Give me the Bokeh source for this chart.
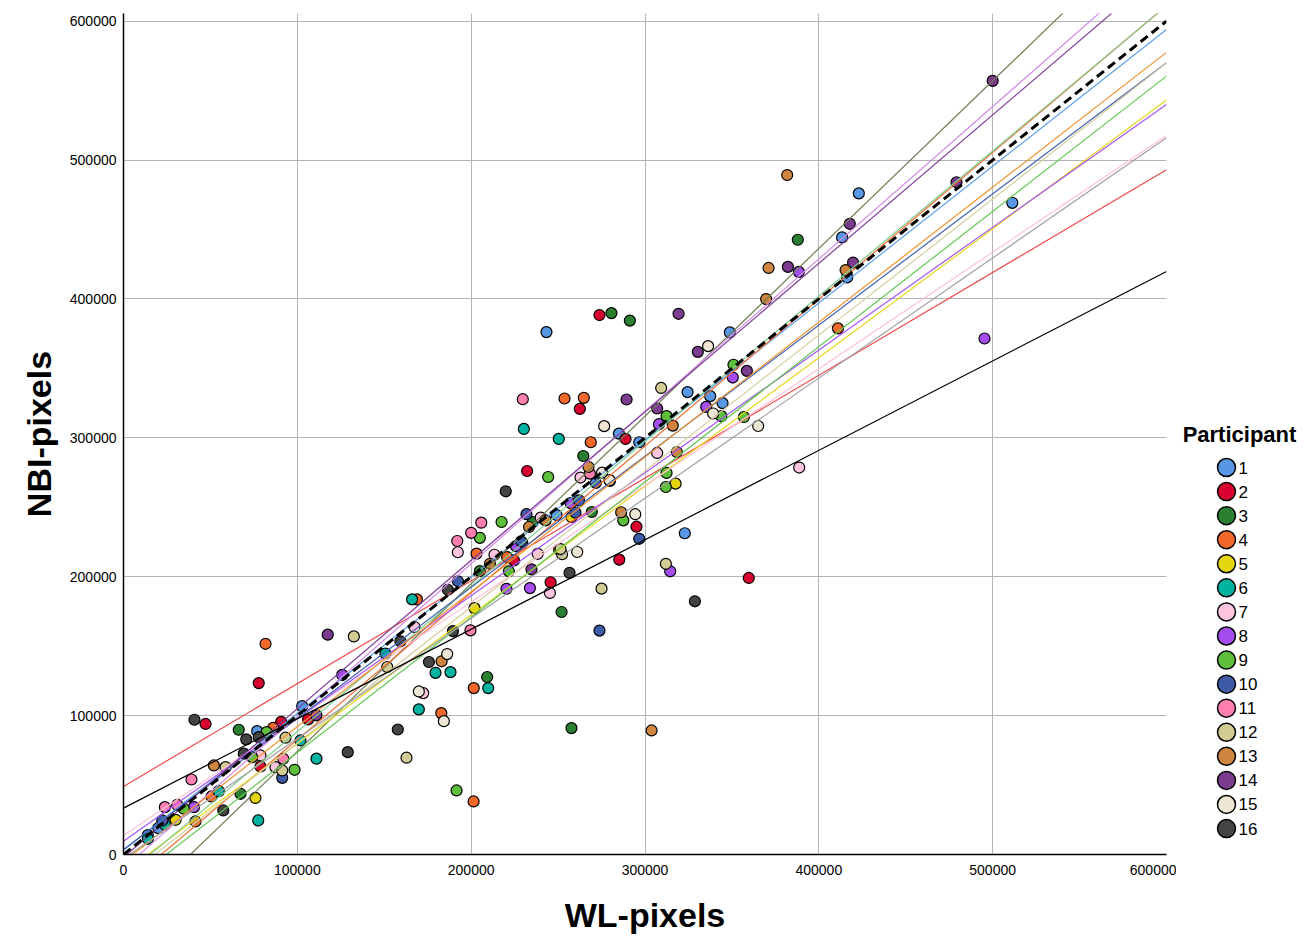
from bokeh.plotting import figure
from bokeh.models import Range1d, ColumnDataSource
from bokeh.layouts import row
from bokeh.embed import file_html
from bokeh.resources import INLINE
from bokeh.core.properties import value

FONT = "Liberation Sans"

participants = [str(i) for i in range(1, 17)]
point_colors = ["#5897E3", "#D7002E", "#2A8030", "#F2682A", "#E3D60E", "#00B2A0",
                "#FFC4DE", "#A64DF0", "#5DBF3A", "#3E5BA8", "#FF80B0", "#D2CB94",
                "#CD853F", "#7B3B8F", "#EDE6D4", "#444444"]
line_colors = ["#5A9FE8", "#F04848", "#6E7D52", "#F26A30", "#E6D81C", "#80CC8C",
               "#FFC0D8", "#A855F7", "#60C850", "#4060B0", "#D48CE8", "#D6CFA0",
               "#F0922E", "#7E3F98", "#A0A0A0", "#000000"]
intercepts = [3000, 49000, -46500, -23000, -13000, -16000, 13700, 9600,
              -24000, 3600, -10000, -17600, -5100, -2000, -3000, 33400]
slopes = [0.985, 0.740, 1.207, 1.057, 0.927, 1.045, 0.840, 0.884,
          0.974, 0.944, 1.097, 0.979, 0.971, 1.069, 0.865, 0.644]

P1 = [(423000, 476000), (413400, 444300), (416300, 415500), (511300, 469200), (348800, 375900),
      (324500, 332900), (337500, 330000), (344600, 325000), (285000, 303000), (296700, 296800),
      (322900, 231300), (279800, 268900), (249100, 244400), (229400, 224400), (243300, 376100),
      (102800, 106800), (76900, 88800), (14000, 14000), (20000, 19000)]
P2 = [(273800, 388400), (262500, 320800), (288800, 299200), (295100, 236000), (285200, 212300),
      (359700, 199100), (232200, 276100), (224600, 211800), (245700, 196000), (77800, 123400),
      (47200, 94000), (106200, 97300), (90700, 95500), (78800, 63400)]
P3 = [(387900, 442600), (280700, 389800), (291300, 384400), (264500, 286900), (269400, 246600),
      (235500, 239400), (252000, 174600), (209200, 127800), (257700, 91000), (66300, 89800),
      (67300, 43700), (205000, 204000)]
P4 = [(411000, 378800), (253700, 328300), (264800, 328800), (268800, 296800), (203100, 216600),
      (220700, 214100), (168800, 183700), (182800, 101800), (201500, 119800), (201400, 38200),
      (81700, 151700), (86100, 91200), (50600, 41800)]
P5 = [(317600, 267000), (257700, 243000), (250600, 219500), (201900, 177400), (75900, 40700),
      (30000, 25000)]
P6 = [(230300, 306400), (250400, 299200), (166000, 183700), (179500, 130800), (188100, 131300),
      (169900, 104500), (209800, 119800), (111000, 69000), (101800, 82100), (54800, 45600),
      (77500, 24500), (23800, 21600), (14000, 11300), (150700, 144600)]
P7 = [(388700, 278600), (262900, 271400), (192300, 217600), (213400, 215800), (240000, 242500),
      (307000, 289100), (245300, 188300), (167400, 163800), (172400, 116200), (78800, 71300),
      (87400, 62900), (238300, 216500)]
P8 = [(495300, 371500), (388500, 419500), (350500, 343400), (335200, 322300), (308000, 309800),
      (257200, 253000), (225800, 222000), (220300, 191300), (233800, 191800), (314500, 203900),
      (125800, 129300), (40500, 34100)]
P9 = [(350900, 352600), (343900, 315600), (356900, 315000), (312400, 315600), (312400, 274700),
      (312000, 264600), (287500, 240600), (244300, 271800), (217500, 239400), (205000, 228000),
      (221700, 203900), (82300, 88100), (98400, 61000), (191600, 46100), (34700, 32900),
      (74000, 70100)]
P10 = [(296700, 227300), (273800, 161200), (231800, 245000), (260000, 246100), (271700, 267500),
       (192400, 196700), (228700, 225500), (91300, 55200), (22300, 24500), (262000, 255000)]
P11 = [(229700, 327800), (205800, 238900), (200000, 231600), (192000, 225700), (268300, 274200),
       (199600, 161400), (91900, 68900), (39100, 54000), (23800, 34100), (30900, 35700)]
P12 = [(309300, 335900), (312000, 209300), (275000, 191400), (252300, 216200), (251400, 219900),
       (132500, 157000), (162800, 69700), (93200, 84100), (91300, 60500), (58700, 62900),
       (151700, 135000)]
P13 = [(381800, 489200), (415400, 420800), (369700, 399900), (371100, 422300), (316000, 308800),
       (318300, 289800), (286300, 246400), (267500, 279000), (233300, 235800), (242800, 240600),
       (183000, 139100), (303800, 89300), (52000, 64100), (41400, 23800), (210800, 209300)]
P14 = [(500000, 557000), (479200, 484000), (417800, 454100), (382200, 423100), (419700, 426200),
       (330400, 361900), (319300, 389300), (358600, 348200), (307000, 321100), (289400, 327600),
       (234700, 205300), (117500, 158300), (111000, 100200)]
P15 = [(336300, 366000), (339200, 317500), (365100, 308500), (276500, 308400), (294400, 245000),
       (275300, 274900), (261000, 217800), (186200, 144300), (169900, 117400), (184300, 96000),
       (279600, 269500)]
P16 = [(328700, 182300), (219900, 261500), (256600, 202800), (186600, 190600), (189500, 160800),
       (175700, 138600), (157800, 90000), (129000, 73700), (69200, 72600), (70600, 82900),
       (77800, 84500), (40800, 97000), (57400, 31700), (159300, 153500)]

groups = [P1, P2, P3, P4, P5, P6, P7, P8, P9, P10, P11, P12, P13, P14, P15, P16]

x_ticks = [0, 100000, 200000, 300000, 400000, 500000, 600000]
y_ticks = [0, 100000, 200000, 300000, 400000, 500000, 600000]
X_MIN, X_MAX = 0, 600000
Y_MAX = 605500

# frame placement (page pixels)
F_LEFT, F_TOP, F_RIGHT, F_BOTTOM = 123, 13, 1166, 854
W, H = 1176, 938
p = figure(width=W, height=H, x_range=Range1d(X_MIN, X_MAX), y_range=Range1d(0, Y_MAX),
           toolbar_location=None, output_backend="svg",
           min_border_left=F_LEFT, min_border_right=W - F_RIGHT,
           min_border_top=F_TOP, min_border_bottom=H - F_BOTTOM)
p.outline_line_color = None
p.background_fill_color = "white"
p.border_fill_color = "white"

p.xaxis.ticker = x_ticks
p.yaxis.ticker = y_ticks
for ax in (p.xaxis[0], p.yaxis[0]):
    ax.major_tick_line_color = None
    ax.minor_tick_line_color = None
    ax.major_tick_out = 0
    ax.major_tick_in = 0
    ax.axis_line_color = "black"
    ax.axis_line_width = 1.5
    ax.major_label_text_font = FONT
    ax.major_label_text_font_size = "14px"
    ax.major_label_text_color = "black"
    ax.axis_label_text_font = FONT
    ax.axis_label_text_font_size = "34px"
    ax.axis_label_text_font_style = "bold"
    ax.axis_label_text_color = "black"
p.xaxis.major_label_standoff = 10
p.yaxis.major_label_standoff = 7
p.xaxis.axis_label = "WL-pixels"
p.yaxis.axis_label = "NBI-pixels"
p.xaxis.axis_label_standoff = 18
p.yaxis.axis_label_standoff = 9
p.yaxis.major_label_orientation = "horizontal"
p.xaxis.formatter.use_scientific = False
p.yaxis.formatter.use_scientific = False

p.grid.grid_line_color = "#B4B4B4"
p.grid.grid_line_width = 1

# points
for i, g in enumerate(groups):
    src = ColumnDataSource(dict(x=[a for a, b in g], y=[b for a, b in g]))
    p.scatter("x", "y", source=src, size=11, fill_color=point_colors[i],
              line_color="black", line_width=1.2)

# regression lines per participant
x0 = [X_MIN] * len(participants)
x1 = [X_MAX] * len(participants)
y0 = [a + b * X_MIN for a, b in zip(intercepts, slopes)]
y1 = [a + b * X_MAX for a, b in zip(intercepts, slopes)]
p.segment(x0=x0, y0=y0, x1=x1, y1=y1, line_color=line_colors, line_width=1.2)

# identity line
p.line(x=[X_MIN, X_MAX], y=[X_MIN, X_MAX], line_color="black", line_width=3, line_dash="9 5")

# legend as a separate panel; its frame is aligned with the main frame rows,
# so data coordinates equal page pixels
LW = 1300 - W
leg = figure(width=LW, height=H, x_range=Range1d(W, W + LW), y_range=Range1d(F_BOTTOM, F_TOP),
             toolbar_location=None, output_backend="svg", min_border=0,
             min_border_top=F_TOP, min_border_bottom=H - F_BOTTOM)
leg.axis.visible = False
leg.grid.visible = False
leg.outline_line_color = None
leg.border_fill_color = "white"

n = len(participants)
ly = [467 + 24.07 * i for i in range(n)]
leg.scatter(x=[1226] * n, y=ly, size=18, fill_color=point_colors, line_color="black", line_width=1.5)
leg.text(x=[1238] * n, y=ly, text=participants, text_font=value(FONT), text_font_size="17px",
         text_baseline="middle", text_align="left", text_color="black")
leg.text(x=[1239], y=[434], text=["Participant"], text_font=value(FONT), text_font_size="22px",
         text_font_style="bold", text_baseline="middle", text_align="center", text_color="black")

layout = row(p, leg)
open("out.html", "w").write(file_html(layout, INLINE))
